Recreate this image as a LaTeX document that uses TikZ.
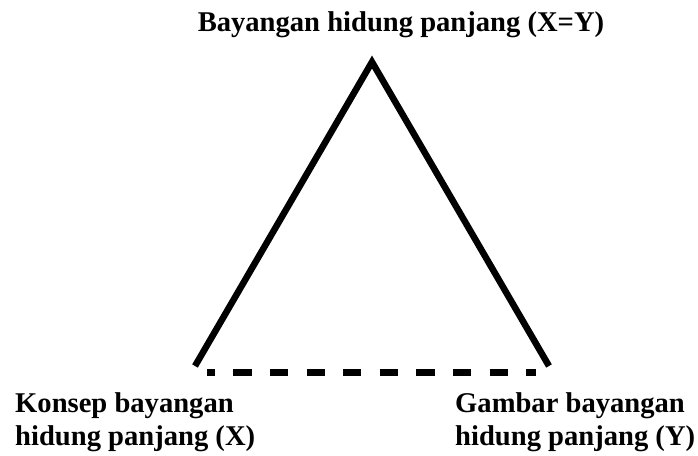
\documentclass[tikz,border=0pt]{standalone}
\usepackage{fontspec}
\setmainfont{Liberation Serif}
\begin{document}
\begin{tikzpicture}[x=1pt,y=-1pt,
  lbl/.style={inner sep=0pt, font=\bfseries\fontsize{28.6}{33.5}\selectfont, align=left},
  side/.style={line width=6.5pt, line join=miter, line cap=butt},
  base/.style={line width=7pt, dash pattern=on 18.3pt off 18.3pt, dash phase=10.3pt}]
\useasboundingbox (0,0) rectangle (698,455);
\coordinate (apex) at (372,62);
\coordinate (bl) at (195,366);
\coordinate (br) at (549,366);
\coordinate (dl) at (207,372.5);
\coordinate (dr) at (535.5,372.5);
\draw[side] (bl) -- (apex) -- (br);
\draw[base] (dl) -- (dr);
\node[lbl, anchor=base] (top) at (401,31) {Bayangan hidung panjang (X=Y)};
\node[lbl, anchor=base west] (x1) at (15,412) {Konsep bayangan};
\node[lbl, anchor=base west] (x2) at (15,445.5) {hidung panjang (X)};
\node[lbl, anchor=base west] (y1) at (455,412) {Gambar bayangan};
\node[lbl, anchor=base west] (y2) at (455,445.5) {hidung panjang (Y)};
\end{tikzpicture}
\end{document}
